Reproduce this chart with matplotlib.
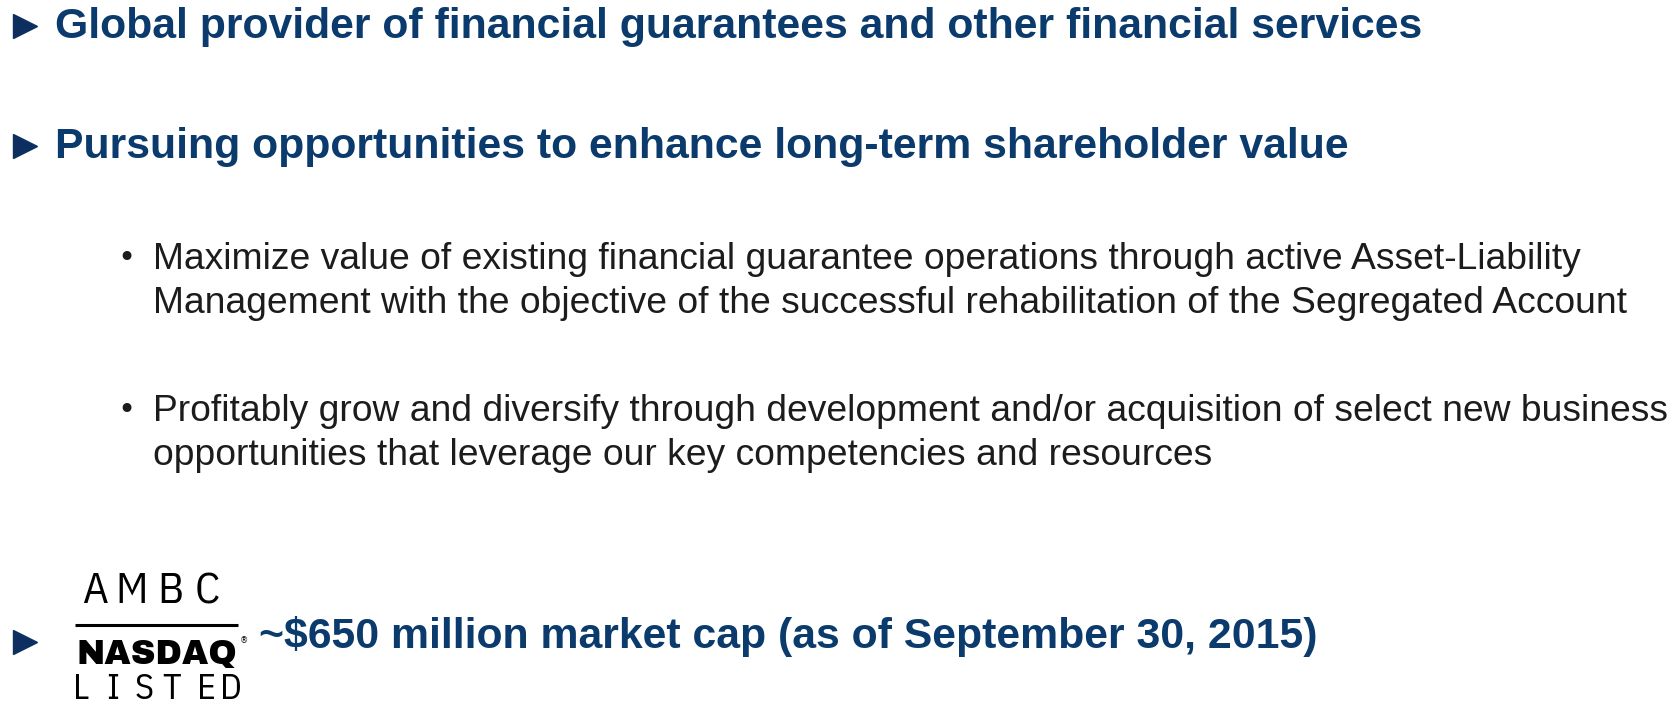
import matplotlib
matplotlib.use("Agg")
import matplotlib.pyplot as plt

headings = [
    "Global provider of financial guarantees and other financial services",
    "Pursuing opportunities to enhance long-term shareholder value",
]
sub_bullets = [
    ["Maximize value of existing financial guarantee operations through active Asset-Liability",
     "Management with the objective of the successful rehabilitation of the Segregated Account"],
    ["Profitably grow and diversify through development and/or acquisition of select new business",
     "opportunities that leverage our key competencies and resources"],
]
market_cap = "~$650 million market cap (as of September 30, 2015)"
ticker = "AMBC"
listed = "LISTED"

BLUE = "#0b3b6c"
ARROW = "#0c2f60"
DARK = "#1c1c1c"
NARROW = ["IBM Plex Sans Condensed", "DejaVu Sans"]

fig = plt.figure(figsize=(16.79, 7.06), dpi=100)
ax = fig.add_axes([0, 0, 1, 1])
ax.set_xlim(0, 1679)
ax.set_ylim(706, 0)
ax.axis("off")

# main headings
head_base = [38, 158]
for y, txt in zip(head_base, headings):
    ax.plot(25, y - 12, marker=">", ms=17, color=ARROW, mec=ARROW)
    ax.text(55, y, txt, fontsize=30.8, fontweight="bold", color=BLUE,
            family="Liberation Sans", va="baseline")

# sub bullets
sub_base = [269, 421]
for y0, lines in zip(sub_base, sub_bullets):
    ax.text(126, y0 - 10, "\u2022", fontsize=22, color=DARK, ha="center",
            va="center", family="DejaVu Sans")
    for i, line in enumerate(lines):
        ax.text(153, y0 + i * 44, line, fontsize=26.8, color=DARK,
                family="Liberation Sans", va="baseline")

# last line with logo
ax.plot(25, 642, marker=">", ms=17, color=ARROW, mec=ARROW)
ax.text(259, 648, market_cap, fontsize=30.8, fontweight="bold", color=BLUE,
        family="Liberation Sans", va="baseline")

# NASDAQ listed logo
lx = [95, 132, 170, 207]
for x, ch in zip(lx, ticker):
    ax.text(x, 603, ch, fontsize=32, color="black", ha="center",
            va="baseline", family=NARROW, fontweight="normal")
ax.plot([75, 238], [625, 625], color="black", lw=2.2, solid_capstyle="butt")
ax.text(157, 664, "NASDAQ", fontsize=24.5, color="black", ha="center",
        va="baseline", family=["Archivo Black", "DejaVu Sans"],
        fontweight="bold")
ax.text(244, 641, "\u00ae", fontsize=6, color="black", ha="center",
        va="center", family="DejaVu Sans")
lx2 = [81, 113, 144, 172, 206, 231]
for x, ch in zip(lx2, listed):
    ax.text(x, 699, ch, fontsize=26, color="black", ha="center",
            va="baseline", family=NARROW, fontweight="normal")

fig.savefig("out.png", dpi=100)
